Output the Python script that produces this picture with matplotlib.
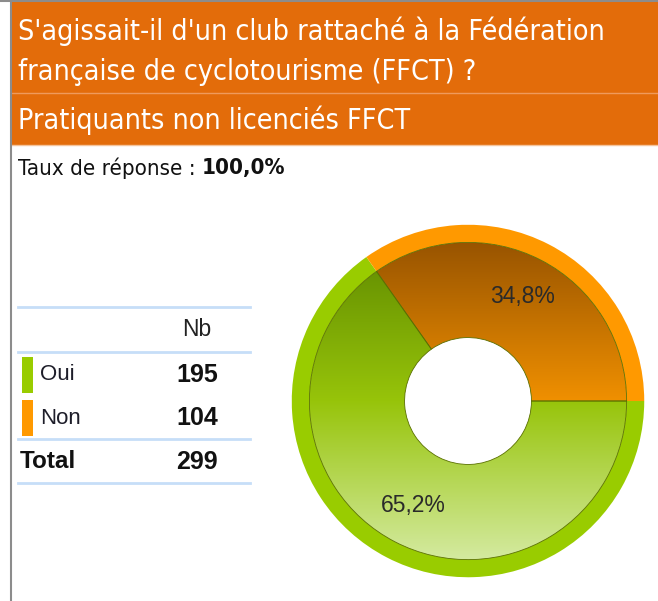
import numpy as np
import matplotlib
matplotlib.use('Agg')
import matplotlib.pyplot as plt
from matplotlib.colors import LinearSegmentedColormap

# data
question = "S'agissait-il d'un club rattaché à la Fédération\nfrançaise de cyclotourisme (FFCT) ?"
subgroup = "Pratiquants non licenciés FFCT"
response_rate = "100,0%"
categories = ['Oui', 'Non']
counts = [195, 104]
rim_colors = ['#99cc00', '#ff9900']
grad_colors = [('#5f8a00', '#97c40a', '#d4eaa0'), ('#985400', '#f09000', '#ffb84a')]

W, H = 658, 601
fig = plt.figure(figsize=(W / 100, H / 100), dpi=100)

sans = ['Liberation Sans', 'DejaVu Sans']

# background / header / table in pixel coords
bg = fig.add_axes([0, 0, 1, 1])
bg.set_xlim(0, W)
bg.set_ylim(H, 0)
bg.axis('off')

bg.add_patch(plt.Rectangle((11, 2), W, 143, color='#e36c0a', lw=0))
bg.plot([11, W], [93, 93], color='#ef9a5c', lw=1)
bg.plot([11, W], [145, 145], color='#f5c49c', lw=1)
bg.plot([11, 11], [0, H], color='#8c8c8c', lw=1.5)
bg.plot([0, W], [0.5, 0.5], color='#8c8c8c', lw=1.5)

bg.text(18, 51, question, color='white', fontsize=20.5, family='DejaVu Sans',
        fontstretch='condensed', va='center', ha='left', linespacing=1.55)
bg.text(18, 120, subgroup, color='white', fontsize=20.5, family='DejaVu Sans',
        fontstretch='condensed', va='center', ha='left')
t = bg.text(18, 168, 'Taux de réponse : ', fontsize=16, family='DejaVu Sans',
            fontstretch='condensed', va='center', ha='left', color='#111111')
fig.canvas.draw()
bb = t.get_window_extent()
x_end = bb.x1 / fig.dpi * 100
bg.text(x_end, 168, response_rate, fontsize=16, family='DejaVu Sans',
        fontstretch='condensed', fontweight='bold', va='center', ha='left',
        color='#111111')

# table
line_c = '#c6def8'
for y in [307, 352, 439, 483]:
    bg.plot([18, 250], [y, y], color=line_c, lw=2)
bg.text(197, 330, 'Nb', fontsize=16.5, family=sans, ha='center', va='center', color='#222222')
row_y = [375, 418]
for name, n, col, y in zip(categories, counts, rim_colors, row_y):
    bg.add_patch(plt.Rectangle((22, y - 18), 11, 36, color=col, lw=0))
    bg.text(40, y, name, fontsize=16, family=sans, ha='left', va='center', color='#1e1e2a')
    bg.text(197, y, str(n), fontsize=18, family=sans, fontweight='bold',
            ha='center', va='center', color='#111111')
bg.text(20, 462, 'Total', fontsize=17.5, family=sans, fontweight='bold',
        ha='left', va='center', color='#111111')
bg.text(197, 462, str(sum(counts)), fontsize=18, family=sans, fontweight='bold',
        ha='center', va='center', color='#111111')

# donut
cx, cy, R = 468, 401, 178
ax = fig.add_axes([(cx - R) / W, (H - cy - R) / H, 2 * R / W, 2 * R / H])
start = 360 * counts[1] / sum(counts)

ax.pie(counts, colors=rim_colors, startangle=start, radius=1.0,
       wedgeprops=dict(width=0.1, lw=0))
wedges, _, autotexts = ax.pie(
    counts, colors=['none', 'none'], startangle=start, radius=0.9,
    wedgeprops=dict(width=0.54, lw=0.6, edgecolor='#5a7000'),
    autopct=lambda p: f'{p:.1f}%'.replace('.', ','), pctdistance=0.745,
    textprops=dict(fontsize=16.5, color='#2a2a2a', family=sans))

grad = np.linspace(0, 1, 256).reshape(-1, 1)
for w, cols in zip(wedges, grad_colors):
    cmap = LinearSegmentedColormap.from_list('g', list(cols))
    im = ax.imshow(grad, cmap=cmap, extent=(-0.9, 0.9, -0.9, 0.9),
                   origin='upper', aspect='auto', zorder=0.5)
    im.set_clip_path(w)
for a in autotexts:
    a.set_zorder(5)

ax.set_xlim(-1.01, 1.01)
ax.set_ylim(-1.01, 1.01)
ax.set_aspect('auto')
ax.axis('off')

fig.savefig('out.png', dpi=100)
